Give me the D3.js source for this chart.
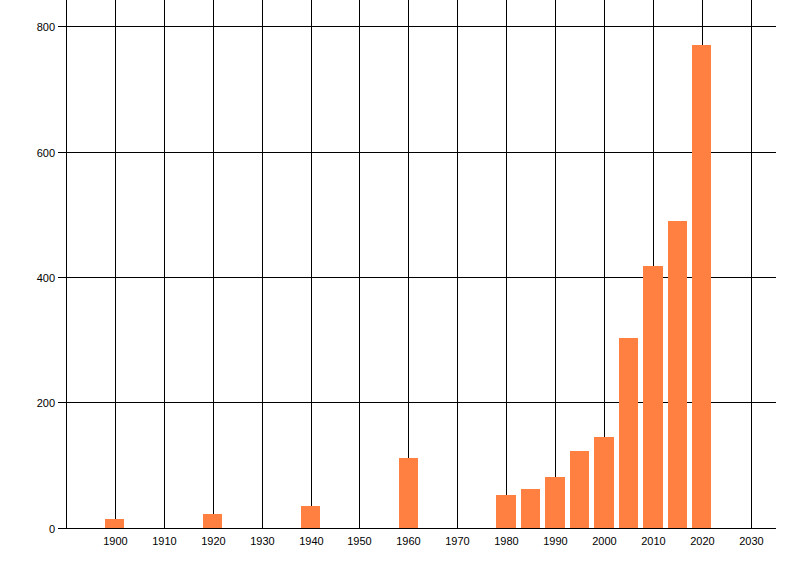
<!DOCTYPE html>
<html>
<head>
<meta charset="utf-8">
<script src="https://cdn.jsdelivr.net/npm/d3@7"></script>
<style>
    body { margin: 0; background: #fff; }
    text { font-family: "Liberation Sans", Arial, sans-serif; font-size: 11px; fill: #000; }
</style>
</head>
<body>
<div class="chart"></div>
<script>
// values
var years = [1900, 1920, 1940, 1960, 1980, 1985, 1990, 1995, 2000, 2005, 2010, 2015, 2020];
var counts = [14, 22, 35, 112, 53, 62, 81, 123, 145, 303, 418, 489, 770];
var xTicks = [1900, 1910, 1920, 1930, 1940, 1950, 1960, 1970, 1980, 1990, 2000, 2010, 2020, 2030];
var yTicks = [0, 200, 400, 600, 800];

var width = 800,
    height = 576;

var svg = d3.select(".chart")
    .append("svg")
    .attr("width", width)
    .attr("height", height);

var x = d3.scaleLinear().domain([1890, 2035]).range([66.4, 775.8]);
var y = d3.scaleLinear().domain([0, 800]).range([527.9, 26.1]);

// snap to a pixel column / row
var px = function(v) { return Math.floor(v); };
var py = function(v) { return Math.round(v); };

var left = px(x.range()[0]),
    right = Math.round(x.range()[1]),
    top = py(y(800)),
    bottom = py(y(0));

// vertical grid lines
svg.append("g").selectAll("line")
    .data(xTicks)
    .enter()
    .append("line")
    .attr("x1", function(d) { return px(x(d)) + 0.5; })
    .attr("x2", function(d) { return px(x(d)) + 0.5; })
    .attr("y1", top)
    .attr("y2", bottom)
    .attr("stroke", "#000")
    .attr("shape-rendering", "crispEdges");

// horizontal grid lines, with ticks sticking out on the left
svg.append("g").selectAll("line")
    .data(yTicks.slice(1))
    .enter()
    .append("line")
    .attr("x1", left - 8)
    .attr("x2", right)
    .attr("y1", function(d) { return py(y(d)) + 0.5; })
    .attr("y2", function(d) { return py(y(d)) + 0.5; })
    .attr("stroke", "#000")
    .attr("shape-rendering", "crispEdges");

// bars, about 4 years wide
svg.append("g").selectAll("rect")
    .data(years)
    .enter()
    .append("rect")
    .attr("x", function(d) { return px(x(d - 2)); })
    .attr("width", function(d) { return px(x(d + 1.95)) - px(x(d - 2)); })
    .attr("y", function(d, i) { return py(y(counts[i])); })
    .attr("height", function(d, i) { return bottom - py(y(counts[i])); })
    .style("fill", "#ff8040")
    .attr("shape-rendering", "crispEdges");

// bottom and left axis lines on top of the bars
svg.append("line")
    .attr("x1", left - 8)
    .attr("x2", right)
    .attr("y1", bottom + 0.5)
    .attr("y2", bottom + 0.5)
    .attr("stroke", "#000")
    .attr("shape-rendering", "crispEdges");

svg.append("line")
    .attr("x1", left + 0.5)
    .attr("x2", left + 0.5)
    .attr("y1", top)
    .attr("y2", bottom + 1)
    .attr("stroke", "#000")
    .attr("shape-rendering", "crispEdges");

// tick labels
svg.append("g").selectAll("text")
    .data(xTicks)
    .enter()
    .append("text")
    .attr("x", function(d) { return px(x(d)) + 0.5; })
    .attr("y", 545)
    .attr("text-anchor", "middle")
    .text(function(d) { return d; });

svg.append("g").selectAll("text")
    .data(yTicks)
    .enter()
    .append("text")
    .attr("x", 55)
    .attr("y", function(d) { return py(y(d)) + 4.5; })
    .attr("text-anchor", "end")
    .text(function(d) { return d; });
</script>
</body>
</html>
